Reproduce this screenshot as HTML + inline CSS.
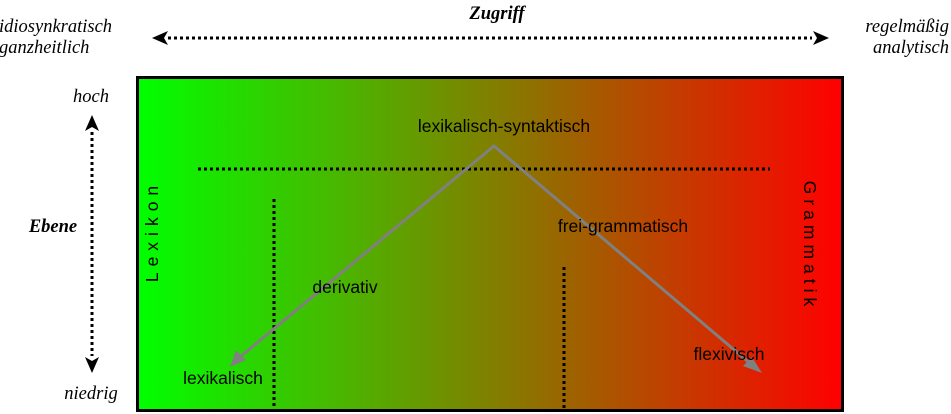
<!DOCTYPE html>
<html><head><meta charset="utf-8"><style>
body{margin:0;background:#fff;}
svg{display:block}
.s{font-family:"Liberation Serif",serif;font-style:italic;font-size:18.5px;fill:#000}
.a{font-family:"Liberation Sans",sans-serif;font-size:17.5px;fill:#000}
</style></head><body>
<svg width="951" height="414" viewBox="0 0 951 414" xmlns="http://www.w3.org/2000/svg">
<defs>
<linearGradient id="g" x1="0" x2="1" y1="0" y2="0">
<stop offset="0" stop-color="#00ff00"/>
<stop offset="0.5" stop-color="#808000"/>
<stop offset="1" stop-color="#ff0000"/>
</linearGradient>
</defs>
<rect x="137.5" y="77.5" width="705" height="333" fill="url(#g)" stroke="#000" stroke-width="3"/>
<text class="s" x="-1" y="32">idiosynkratisch</text>
<text class="s" x="-1" y="53">ganzheitlich</text>
<text class="s" x="949" y="32" text-anchor="end">regelmäßig</text>
<text class="s" x="949" y="53" text-anchor="end">analytisch</text>
<text class="s" x="497" y="19" text-anchor="middle" font-weight="bold">Zugriff</text>
<text class="s" x="53" y="232" text-anchor="middle" font-weight="bold">Ebene</text>
<text class="s" x="91" y="102" text-anchor="middle">hoch</text>
<text class="s" x="91" y="399" text-anchor="middle">niedrig</text>
<line x1="168" y1="38" x2="812" y2="38" stroke="#000" stroke-width="3" stroke-dasharray="3,3"/>
<polygon points="152,38 168,31 164,38 168,45" fill="#000"/>
<polygon points="829,38 813,31 817,38 813,45" fill="#000"/>
<line x1="92" y1="132" x2="92" y2="356" stroke="#000" stroke-width="3" stroke-dasharray="3,3"/>
<polygon points="92,115 85,131 92,127 99,131" fill="#000"/>
<polygon points="92,373 85,357 92,361 99,357" fill="#000"/>
<line x1="198" y1="169" x2="770" y2="169" stroke="#000" stroke-width="3" stroke-dasharray="3,3"/>
<line x1="274" y1="199" x2="274" y2="411" stroke="#000" stroke-width="3" stroke-dasharray="3,3"/>
<line x1="564" y1="267" x2="564" y2="411" stroke="#000" stroke-width="3" stroke-dasharray="3,3"/>
<polyline points="240,357 494,146 752,365" fill="none" stroke="#808080" stroke-width="3"/>
<polygon points="230,367 236,350 246,360" fill="#808080"/>
<polygon points="762,373 743,366 752,357" fill="#808080"/>
<text class="a" x="504" y="132" text-anchor="middle">lexikalisch-syntaktisch</text>
<text class="a" x="623" y="232" text-anchor="middle">frei-grammatisch</text>
<text class="a" x="345" y="293" text-anchor="middle">derivativ</text>
<text class="a" x="223" y="384" text-anchor="middle">lexikalisch</text>
<text class="a" x="729" y="360" text-anchor="middle">flexivisch</text>
<text class="a" transform="translate(158,231) rotate(-90)" text-anchor="middle" letter-spacing="6" font-size="14">Lexikon</text>
<text class="a" transform="translate(804,246) rotate(90)" text-anchor="middle" letter-spacing="5" font-size="14">Grammatik</text>
</svg>
</body></html>
